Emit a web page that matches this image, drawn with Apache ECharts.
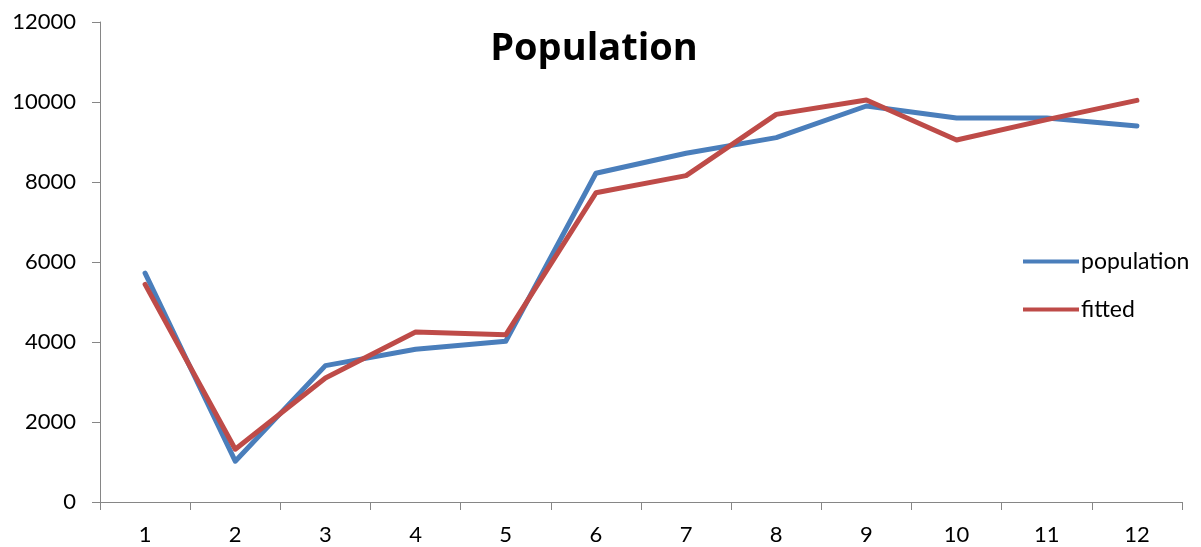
<!DOCTYPE html>
<html><head><meta charset="utf-8">
<script src="https://cdn.jsdelivr.net/npm/echarts@6/dist/echarts.min.js"></script>
<style>html,body{margin:0;padding:0;background:#fff}#c{width:1201px;height:547px}</style>
</head><body><div id="c"></div>
<script>
const categories = ['1','2','3','4','5','6','7','8','9','10','11','12'];
const population = [5720, 1020, 3410, 3820, 4020, 8220, 8720, 9110, 9900, 9600, 9600, 9400];
const fitted = [5440, 1320, 3100, 4250, 4180, 7730, 8160, 9690, 10050, 9050, 9560, 10040];
const chart = echarts.init(document.getElementById('c'));
const font = 'Lato, "Open Sans", sans-serif';
chart.setOption({
  animation: false,
  title: { text: 'Population', left: 589, top: 25, textAlign: 'center',
    textStyle: { fontFamily: '"Open Sans", sans-serif', fontSize: 38, fontWeight: 'bold', color: '#000' } },
  legend: { orient: 'vertical', left: 1018, top: 245, itemWidth: 56, itemHeight: 14, itemGap: 25,
    icon: 'path://M0,5 L55,5 L55,9 L0,9 Z',
    textStyle: { fontFamily: font, fontSize: 23, color: '#000', padding: [0,0,0,-3] },
    data: ['population', 'fitted'] },
  grid: { left: 100, right: 19, top: 22, bottom: 45 },
  xAxis: { type: 'category', data: categories, boundaryGap: true,
    axisLine: { lineStyle: { color: '#868686', width: 1 } },
    axisTick: { show: true, length: 8, lineStyle: { color: '#868686' } },
    axisLabel: { fontFamily: font, fontSize: 22, color: '#000', margin: 22 } },
  yAxis: { type: 'value', min: 0, max: 12000, interval: 2000,
    axisLine: { show: true, lineStyle: { color: '#868686', width: 1 } },
    axisTick: { show: true, length: 8, lineStyle: { color: '#868686' } },
    splitLine: { show: false },
    axisLabel: { fontFamily: font, fontSize: 22, color: '#000', margin: 24, formatter: v => String(v) } },
  series: [
    { name: 'population', type: 'line', data: population, symbol: 'none',
      lineStyle: { color: '#4A7EBB', width: 5, cap: 'round', join: 'round' }, itemStyle: { color: '#4A7EBB' } },
    { name: 'fitted', type: 'line', data: fitted, symbol: 'none',
      lineStyle: { color: '#BE4B48', width: 5, cap: 'round', join: 'round' }, itemStyle: { color: '#BE4B48' } }
  ]
});
</script></body></html>
